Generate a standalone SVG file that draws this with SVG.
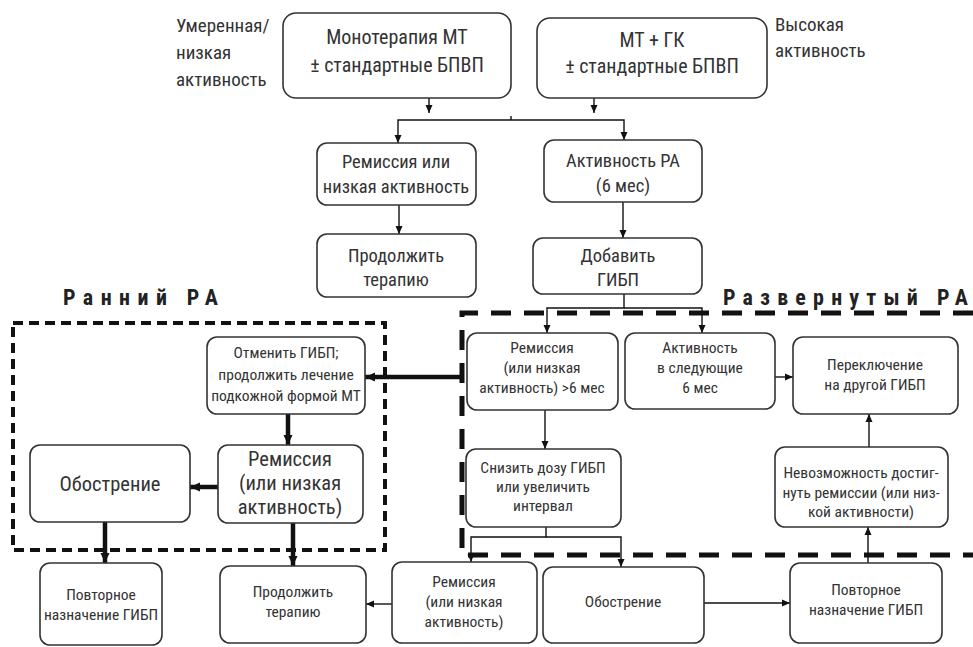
<svg xmlns="http://www.w3.org/2000/svg" width="973" height="647" viewBox="0 0 973 647">
<style>
.box{fill:#fff;stroke:#333;stroke-width:1.6}
.t{font-family:"Liberation Sans Narrow","Roboto Condensed","DejaVu Sans Condensed","Liberation Sans",sans-serif;font-weight:normal;fill:#333;text-anchor:middle}
.l{font-family:"Liberation Sans Narrow","Roboto Condensed","DejaVu Sans Condensed","Liberation Sans",sans-serif;font-weight:normal;fill:#333}
.s19{font-size:19px}
.s20{font-size:20px}
.s18{font-size:18.5px}
.s14{font-size:15.5px}
.s21{font-size:20.5px}
.c{stroke:#111;stroke-width:1.4;fill:none}
.k{stroke:#111;stroke-width:4.5;fill:none}
.h{font-family:"Liberation Sans Narrow","Roboto Condensed","Liberation Sans",sans-serif;font-weight:bold;font-size:22px;fill:#222}
</style>
<defs>
<marker id="a" markerUnits="userSpaceOnUse" markerWidth="8" markerHeight="8" viewBox="0 0 8 8" refX="8" refY="4" orient="auto"><path d="M0,0.5 L8,4 L0,7.5 z" fill="#111"/></marker>
<marker id="b" markerUnits="userSpaceOnUse" markerWidth="10" markerHeight="10" viewBox="0 0 10 10" refX="10" refY="5" orient="auto"><path d="M0,0.5 L10,5 L0,9.5 z" fill="#111"/></marker>
</defs>

<g id="regions">
<rect x="13" y="323" width="372" height="227" fill="none" stroke="#111" stroke-width="4" stroke-dasharray="10 6"/>
<path d="M973,313 H462 V555 H973" fill="none" stroke="#111" stroke-width="5" stroke-dasharray="20 13"/>
<text class="h" x="63" y="305" textLength="155" lengthAdjust="spacing">Ранний РА</text>
<text class="h" x="723" y="305" textLength="245" lengthAdjust="spacing">Развернутый РА</text>
</g>

<g id="labels">
<text class="l s19" x="176" y="32">Умеренная/</text>
<text class="l s19" x="176" y="59">низкая</text>
<text class="l s19" x="176" y="86">активность</text>
<text class="l s19" x="775" y="31">Высокая</text>
<text class="l s19" x="775" y="57">активность</text>
</g>

<g id="connectors">
<path class="c" d="M429,98 V113" marker-end="url(#a)"/>
<path class="c" d="M594,98 V113" marker-end="url(#a)"/>
<path class="c" d="M511,120 H398 V143" marker-end="url(#a)"/>
<path class="c" d="M511,120 H624 V140" marker-end="url(#a)"/>
<path class="c" d="M511,116 V120"/>
<path class="c" d="M399,205 V234" marker-end="url(#a)"/>
<path class="c" d="M623,202 V238" marker-end="url(#a)"/>
<path class="c" d="M624,294 V308 H547 V333" marker-end="url(#a)"/>
<path class="c" d="M624,308 H702 V333" marker-end="url(#a)"/>
<path class="c" d="M545,410 V449" marker-end="url(#a)"/>
<path class="c" d="M775,377 H793" marker-end="url(#a)"/>
<path class="c" d="M869,447 V414" marker-end="url(#a)"/>
<path class="c" d="M546,527 V537 H471 V562" marker-end="url(#a)"/>
<path class="c" d="M546,537 H621 V567" marker-end="url(#a)"/>
<path class="c" d="M392,604 H366" marker-end="url(#a)"/>
<path class="c" d="M704,603 H790" marker-end="url(#a)"/>
<path class="c" d="M868,563 V527" marker-end="url(#a)"/>
<path class="k" d="M462,377 H365" marker-end="url(#b)"/>
<path class="k" d="M288,414 V445" marker-end="url(#b)"/>
<path class="k" d="M218,487 H190" marker-end="url(#b)"/>
<path class="k" d="M105,522 V563" marker-end="url(#b)"/>
<path class="k" d="M293,523 V566" marker-end="url(#b)"/>
</g>

<g id="n-mono"><rect class="box" x="283" y="13" width="228" height="85" rx="13"/>
<text class="t s20" x="397" y="44">Монотерапия МТ</text><text class="t s20" x="397" y="72">± стандартные БПВП</text></g>
<g id="n-mtgk"><rect class="box" x="537" y="18" width="230" height="80" rx="13"/>
<text class="t s20" x="652" y="47">МТ + ГК</text><text class="t s20" x="652" y="73">± стандартные БПВП</text></g>
<g id="n-rem1"><rect class="box" x="317" y="143" width="159" height="62" rx="10"/>
<text class="t s18" x="396" y="168">Ремиссия или</text><text class="t s18" x="396" y="193">низкая активность</text></g>
<g id="n-prod1"><rect class="box" x="317" y="234" width="159" height="63" rx="10"/>
<text class="t s18" x="396" y="262">Продолжить</text><text class="t s18" x="396" y="286">терапию</text></g>
<g id="n-akt"><rect class="box" x="544" y="140" width="158" height="62" rx="10"/>
<text class="t s18" x="623" y="167">Активность РА</text><text class="t s18" x="623" y="192">(6 мес)</text></g>
<g id="n-add"><rect class="box" x="533" y="238" width="169" height="56" rx="10"/>
<text class="t s18" x="618" y="262">Добавить</text><text class="t s18" x="618" y="286">ГИБП</text></g>

<g id="n-rem6"><rect class="box" x="467" y="333" width="151" height="77" rx="10"/>
<text class="t s14" x="542" y="353">Ремиссия</text><text class="t s14" x="542" y="373">(или низкая</text><text class="t s14" x="542" y="393">активность) &gt;6 мес</text></g>
<g id="n-akt6"><rect class="box" x="625" y="333" width="150" height="76" rx="10"/>
<text class="t s14" x="700" y="353">Активность</text><text class="t s14" x="700" y="373">в следующие</text><text class="t s14" x="700" y="393">6 мес</text></g>
<g id="n-switch"><rect class="box" x="793" y="337" width="165" height="77" rx="10"/>
<text class="t s14" x="875" y="370">Переключение</text><text class="t s14" x="875" y="390">на другой ГИБП</text></g>
<g id="n-reduce"><rect class="box" x="466" y="449" width="155" height="78" rx="10"/>
<text class="t s14" x="543" y="473">Снизить дозу ГИБП</text><text class="t s14" x="543" y="492">или увеличить</text><text class="t s14" x="543" y="511">интервал</text></g>
<g id="n-fail"><rect class="box" x="775" y="447" width="173" height="80" rx="10"/>
<text class="t s14" x="861" y="478">Невозможность достиг-</text><text class="t s14" x="861" y="498">нуть ремиссии (или низ-</text><text class="t s14" x="861" y="517">кой активности)</text></g>

<g id="n-cancel"><rect class="box" x="207" y="337" width="158" height="77" rx="10"/>
<text class="t s14" x="286" y="358">Отменить ГИБП;</text><text class="t s14" x="286" y="380">продолжить лечение</text><text class="t s14" x="286" y="401">подкожной формой МТ</text></g>
<g id="n-rem-early"><rect class="box" x="218" y="445" width="145" height="78" rx="10"/>
<text class="t s21" x="290" y="466">Ремиссия</text><text class="t s21" x="290" y="490">(или низкая</text><text class="t s21" x="290" y="514">активность)</text></g>
<g id="n-flare-early"><rect class="box" x="30" y="445" width="160" height="77" rx="10"/>
<text class="t s21" x="110" y="491">Обострение</text></g>

<g id="n-rep1"><rect class="box" x="40" y="563" width="122" height="82" rx="10"/>
<text class="t s14" x="101" y="600">Повторное</text><text class="t s14" x="101" y="620">назначение ГИБП</text></g>
<g id="n-prod2"><rect class="box" x="220" y="566" width="146" height="77" rx="10"/>
<text class="t s14" x="293" y="597">Продолжить</text><text class="t s14" x="293" y="617">терапию</text></g>
<g id="n-rem2"><rect class="box" x="392" y="562" width="145" height="81" rx="10"/>
<text class="t s14" x="464" y="587">Ремиссия</text><text class="t s14" x="464" y="607">(или низкая</text><text class="t s14" x="464" y="627">активность)</text></g>
<g id="n-flare2"><rect class="box" x="543" y="567" width="161" height="76" rx="10"/>
<text class="t s14" x="623" y="607">Обострение</text></g>
<g id="n-rep2"><rect class="box" x="790" y="563" width="152" height="80" rx="10"/>
<text class="t s14" x="866" y="595">Повторное</text><text class="t s14" x="866" y="615">назначение ГИБП</text></g>
</svg>
